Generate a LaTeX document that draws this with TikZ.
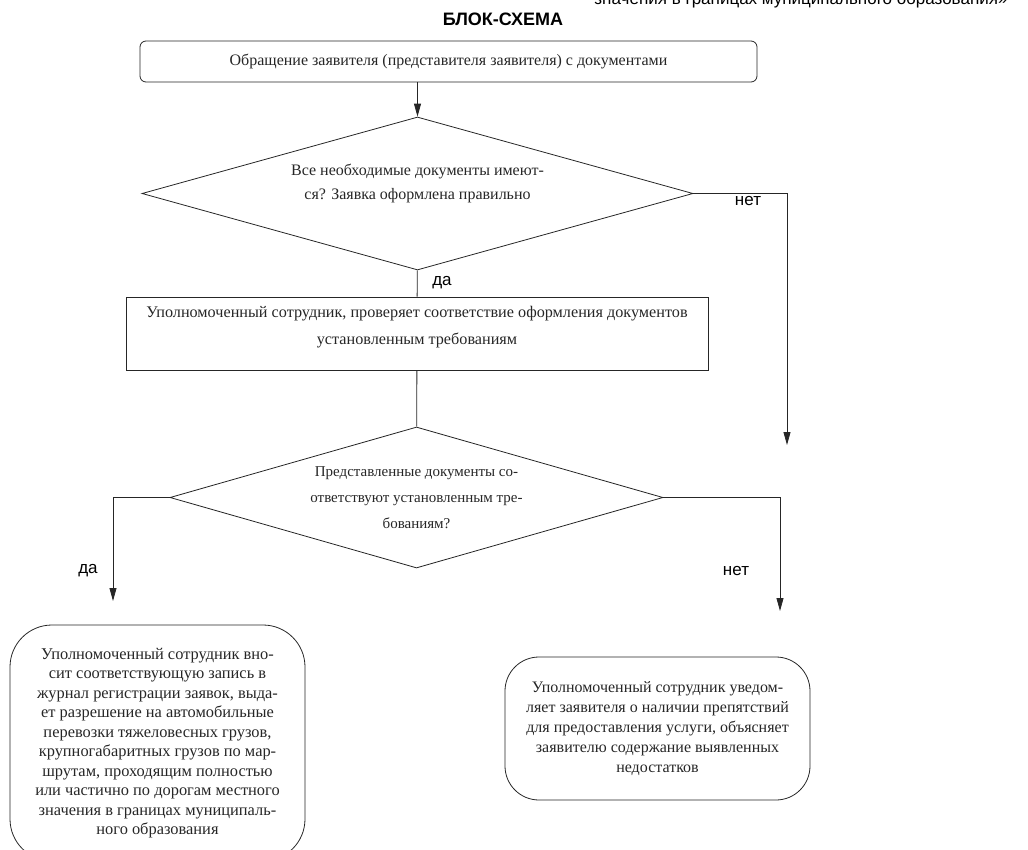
\documentclass[tikz,border=0pt]{standalone}
\usepackage{fontspec}
\setmainfont{Liberation Serif}
\newfontfamily\labelfont{Liberation Sans}
\usetikzlibrary{shapes.geometric,arrows.meta}

\begin{document}
\begin{tikzpicture}[x=1pt,y=-1pt,line width=0.8pt,draw=black!85,>={Triangle[width=7pt,length=13pt]}]
    \tikzstyle{block}=[draw,rectangle,align=center,inner sep=0pt,text=black!85]
    \tikzstyle{start block}=[block,rounded corners=6pt,minimum width=617pt,minimum height=41pt,font=\fontsize{16}{27}\selectfont]
    \tikzstyle{check block}=[block,minimum width=582pt,minimum height=73pt,font=\fontsize{16.2}{27}\selectfont]
    \tikzstyle{decision}=[draw,diamond,align=center,inner sep=0pt,text=black!85]
    \tikzstyle{result block}=[block,rounded corners=42pt,font=\fontsize{16.4}{19.5}\selectfont]
    \tikzstyle{annot}=[inner sep=0pt,font=\labelfont\fontsize{17}{17}\selectfont]

    \useasboundingbox (0,0) rectangle (1028,850);
    \clip (0,0) rectangle (1028,850);

    % Draw the header
    \node[annot] (T-0) at (801,0) {значения в границах муниципального образования»};
    \node[annot,font=\labelfont\bfseries\fontsize{18}{18}\selectfont] (T-1) at (503,19) {БЛОК-СХЕМА};

    % Draw the blocks
    \node[start block] (B-1) at (448.5,61.5) {Обращение заявителя (представителя заявителя) с документами};
    \node[decision,shape aspect=3.6,minimum width=551pt,minimum height=153pt,font=\fontsize{16}{24}\selectfont] (D-1) at (417.5,193.5) {Все необходимые документы имеют-\\ся? Заявка оформлена правильно\\\mbox{}};
    \node[check block,text depth=16pt] (B-2) at (417,333.5) {Уполномоченный сотрудник, проверяет соответствие оформления документов\\установленным требованиям};
    \node[decision,shape aspect=3.5,minimum width=493pt,minimum height=141pt,font=\fontsize{15}{26}\selectfont] (D-2) at (416.5,497.5) {Представленные документы со-\\ответствуют установленным тре-\\бованиям?};
    \node[result block,minimum width=295pt,minimum height=236pt] (R-1) at (157.5,743) {Уполномоченный сотрудник вно-\\сит соответствующую запись в\\журнал регистрации заявок, выда-\\ет разрешение на автомобильные\\перевозки тяжеловесных грузов,\\крупногабаритных грузов по мар-\\шрутам, проходящим полностью\\или частично по дорогам местного\\значения в границах муниципаль-\\ного образования};
    \node[result block,minimum width=305pt,minimum height=143pt,rounded corners=34pt,font=\fontsize{16}{20}\selectfont] (R-2) at (657.5,728.5) {Уполномоченный сотрудник уведом-\\ляет заявителя о наличии препятствий\\для предоставления услуги, объясняет\\заявителю содержание выявленных\\недостатков};

    % Free ends of the branches
    \coordinate (C-1) at (787,445);
    \coordinate (C-2) at (113,601);
    \coordinate (C-3) at (780,611);

    % Draw the connectors
    \draw[->] (B-1.south -| D-1) -- (D-1);
    \draw (D-1) -- (B-2);
    \draw[->] (D-1.east) -| (C-1);
    \draw (B-2) -- (D-2);
    \draw[->] (D-2.west) -| (C-2);
    \draw[->] (D-2.east) -| (C-3);

    % Annotate the branches
    \node[annot] (L-1) at (442,283) {да};
    \node[annot] (L-2) at (748,201) {нет};
    \node[annot] (L-3) at (88,571) {да};
    \node[annot] (L-4) at (736,571) {нет};
\end{tikzpicture}
\end{document}
